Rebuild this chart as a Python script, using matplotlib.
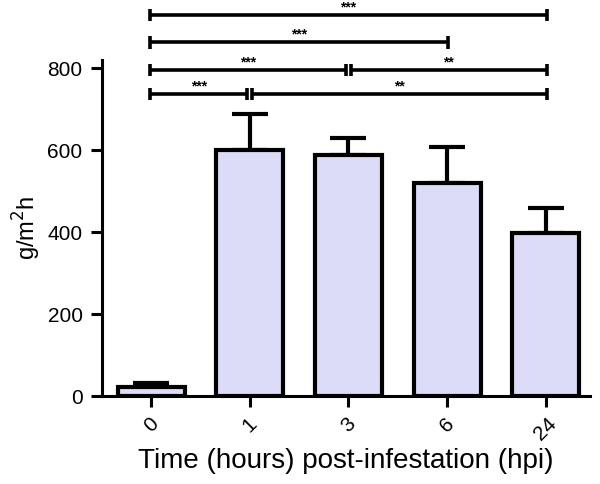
import matplotlib
matplotlib.use("Agg")
import matplotlib.pyplot as plt

categories = ["0", "1", "3", "6", "24"]
means = [22, 600, 588, 520, 398]
sem = [10, 88, 41, 87, 61]

# significance comparisons: (from index, to index, label, level)
comparisons = [
    (0, 4, "***", 929),
    (0, 3, "***", 863),
    (0, 2, "***", 795),
    (2, 4, "**", 795),
    (0, 1, "***", 737),
    (1, 4, "**", 737),
]

plt.rcParams['font.family'] = ['Liberation Sans', 'DejaVu Sans']

fig = plt.figure(figsize=(6, 4.84), dpi=100)
ax = fig.add_axes([102/600, 1-396/484, (590-102)/600, (396-60)/484])

x = list(range(len(categories)))
ax.bar(x, means, width=0.68, color='#dcdcf8', edgecolor='black', linewidth=3, zorder=2)
ax.errorbar(x, means, yerr=[[0]*len(sem), sem], fmt='none', ecolor='black',
            elinewidth=3, capsize=13, capthick=3, zorder=1)

ax.set_xlim(-0.5, 4.45)
ax.set_ylim(0, 820)
ax.set_yticks([0, 200, 400, 600, 800])
ax.set_xticks(x)
ax.set_xticklabels(categories, rotation=45, ha='center', va='top')

ax.spines['top'].set_visible(False)
ax.spines['right'].set_visible(False)
ax.spines['left'].set_linewidth(2.2)
ax.spines['bottom'].set_linewidth(2.2)
ax.tick_params(axis='both', width=2.2, length=8, labelsize=15)
ax.tick_params(axis='y', pad=6)
ax.tick_params(axis='x', pad=5)

ax.set_ylabel("g/m$^2$h", fontsize=17, labelpad=3)
ax.set_xlabel("Time (hours) post-infestation (hpi)", fontsize=20, labelpad=3)

gap = 0.035
for i, j, lab, lev in comparisons:
    left = i - 0.01
    right = j + 0.01
    if i != 0:
        left += gap
    for c in comparisons:
        if c[3] == lev and c[0] == j:
            right -= gap
    ax.plot([left, right], [lev, lev], color='black', lw=2.6, clip_on=False,
            solid_capstyle='butt')
    for xx in (left, right):
        ax.plot([xx, xx], [lev-15, lev+15], color='black', lw=2.6, clip_on=False,
                solid_capstyle='butt')
    ax.text((left + right) / 2, lev + 9, lab, ha='center', va='baseline', fontsize=10,
            fontweight='bold', clip_on=False)

fig.savefig("out.png", dpi=100)
